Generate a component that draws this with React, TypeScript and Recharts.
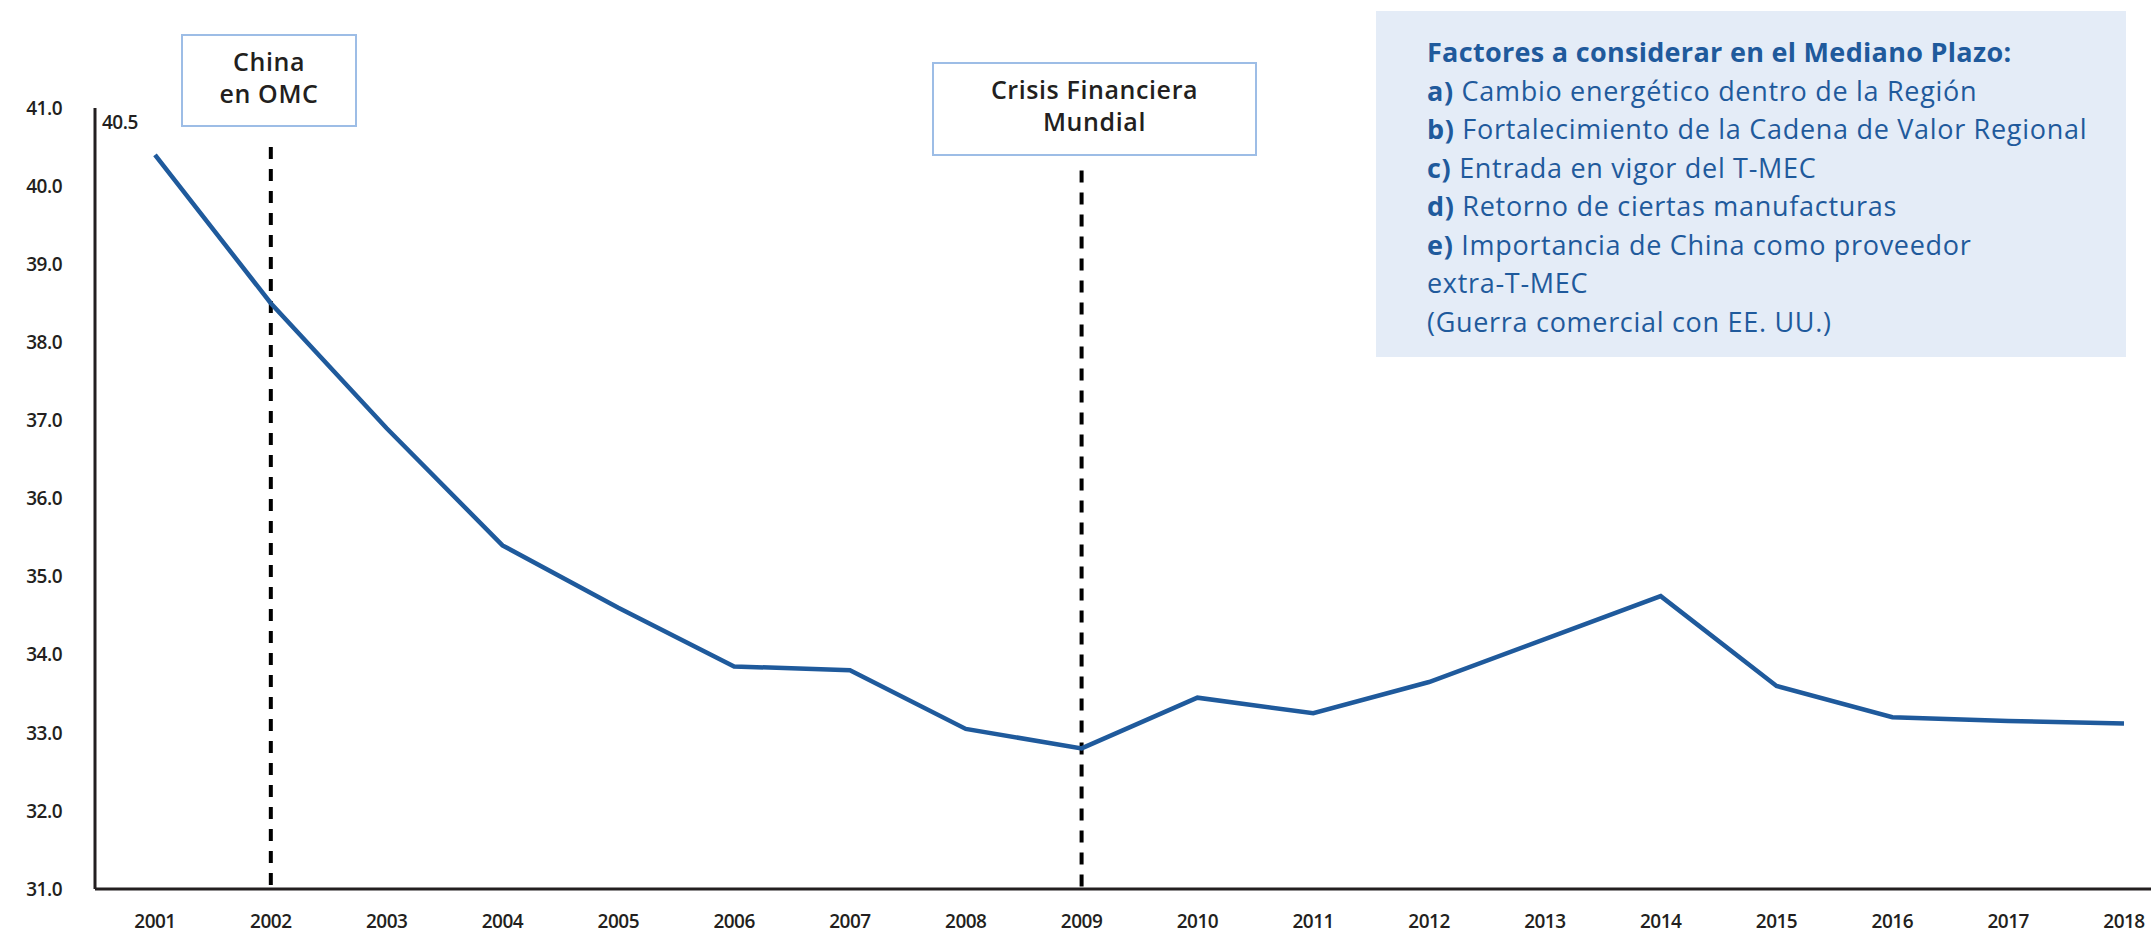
import React from 'react';
import { LineChart, Line, XAxis, YAxis, ReferenceLine, LabelList } from 'recharts';

// share (%) by year
const years = ['2001', '2002', '2003', '2004', '2005', '2006', '2007', '2008', '2009', '2010', '2011', '2012', '2013', '2014', '2015', '2016', '2017', '2018'];
const shares = [40.4, 38.5, 36.9, 35.4, 34.6, 33.85, 33.8, 33.05, 32.8, 33.45, 33.25, 33.65, 34.2, 34.75, 33.6, 33.2, 33.15, 33.12];
const yTicks = [31, 32, 33, 34, 35, 36, 37, 38, 39, 40, 41];
const firstLabel = '40.5';

// dashed event markers: year, top of the dashed segment (in axis units)
const events = [
  { year: '2002', top: 40.5 },
  { year: '2009', top: 40.2 },
];

const factorsTitle = 'Factores a considerar en el Mediano Plazo:';
const factors = [
  { tag: 'a)', text: ' Cambio energético dentro de la Región' },
  { tag: 'b)', text: ' Fortalecimiento de la Cadena de Valor Regional' },
  { tag: 'c)', text: ' Entrada en vigor del T-MEC' },
  { tag: 'd)', text: ' Retorno de ciertas manufacturas' },
  { tag: 'e)', text: ' Importancia de China como proveedor' },
  { tag: '', text: 'extra-T-MEC' },
  { tag: '', text: '(Guerra comercial con EE. UU.)' },
];

const INK = '#231f20';
const BLUE = '#1f5a9c';
const FONT = '"Open Sans", "Noto Sans", sans-serif';

const data = years.map((year, i) => ({ year, share: shares[i] }));

const tickStyle = { fill: INK, fontSize: 19, fontWeight: 600, fontFamily: FONT, letterSpacing: -0.5 };

function FirstValue(props: any) {
  const { x, y, index } = props;
  if (index !== 0) return null;
  return (
    <text x={x - 53} y={y - 26} fill={INK} fontSize={19} fontWeight={600} fontFamily={FONT} letterSpacing={-0.5}>
      {firstLabel}
    </text>
  );
}

function EventBox({ left, top, width, height, lines }: { left: number; top: number; width: number; height: number; lines: string[] }) {
  return (
    <div
      style={{
        position: 'absolute',
        left,
        top,
        width,
        height,
        boxSizing: 'border-box',
        border: '2px solid #9dbde6',
        background: '#fff',
        display: 'flex',
        flexDirection: 'column',
        alignItems: 'center',
        justifyContent: 'center',
        paddingBottom: 8,
        color: INK,
        fontFamily: FONT,
        fontSize: 25,
        fontWeight: 600,
        lineHeight: '32px',
        letterSpacing: 0.6,
      }}
    >
      {lines.map((l) => (
        <div key={l}>{l}</div>
      ))}
    </div>
  );
}

export default function App() {
  return (
    <div style={{ position: 'absolute', left: 0, top: 0, width: 2151, height: 935, background: '#fff', overflow: 'hidden' }}>
      <LineChart width={2151} height={935} data={data} margin={{ top: 108, right: 0, bottom: 0, left: 0 }}>
        <XAxis
          dataKey="year"
          height={46}
          interval={0}
          padding={{ left: 60, right: 27 }}
          axisLine={{ stroke: INK, strokeWidth: 3 }}
          tickLine={false}
          tickMargin={20}
          tick={tickStyle}
        />
        <YAxis
          width={95}
          domain={[31, 41]}
          ticks={yTicks}
          interval={0}
          allowDataOverflow
          tickFormatter={(v: number) => v.toFixed(1)}
          axisLine={{ stroke: INK, strokeWidth: 3 }}
          tickLine={false}
          tickMargin={27}
          tick={tickStyle}
        />
        {events.map((e) => (
          <ReferenceLine
            key={e.year}
            segment={[
              { x: e.year, y: e.top },
              { x: e.year, y: 31 },
            ]}
            stroke="#000"
            strokeWidth={4}
            strokeDasharray="12 10"
          />
        ))}
        <Line type="linear" dataKey="share" stroke={BLUE} strokeWidth={4.5} dot={false} isAnimationActive={false}>
          <LabelList dataKey="share" content={FirstValue} />
        </Line>
      </LineChart>

      <EventBox left={181} top={34} width={176} height={93} lines={['China', 'en OMC']} />
      <EventBox left={932} top={62} width={325} height={94} lines={['Crisis Financiera', 'Mundial']} />

      <div
        style={{
          position: 'absolute',
          left: 1376,
          top: 11,
          width: 750,
          height: 346,
          boxSizing: 'border-box',
          background: '#e4ecf7',
          padding: '22px 0 0 51px',
          color: BLUE,
          fontFamily: FONT,
          fontSize: 27,
          lineHeight: '38.5px',
          fontWeight: 500,
          letterSpacing: 0.7,
          whiteSpace: 'nowrap',
        }}
      >
        <div style={{ fontWeight: 700, letterSpacing: 0.3 }}>{factorsTitle}</div>
        {factors.map((f) => (
          <div key={f.text}>
            {f.tag && <span style={{ fontWeight: 700 }}>{f.tag}</span>}
            {f.text}
          </div>
        ))}
      </div>
    </div>
  );
}
